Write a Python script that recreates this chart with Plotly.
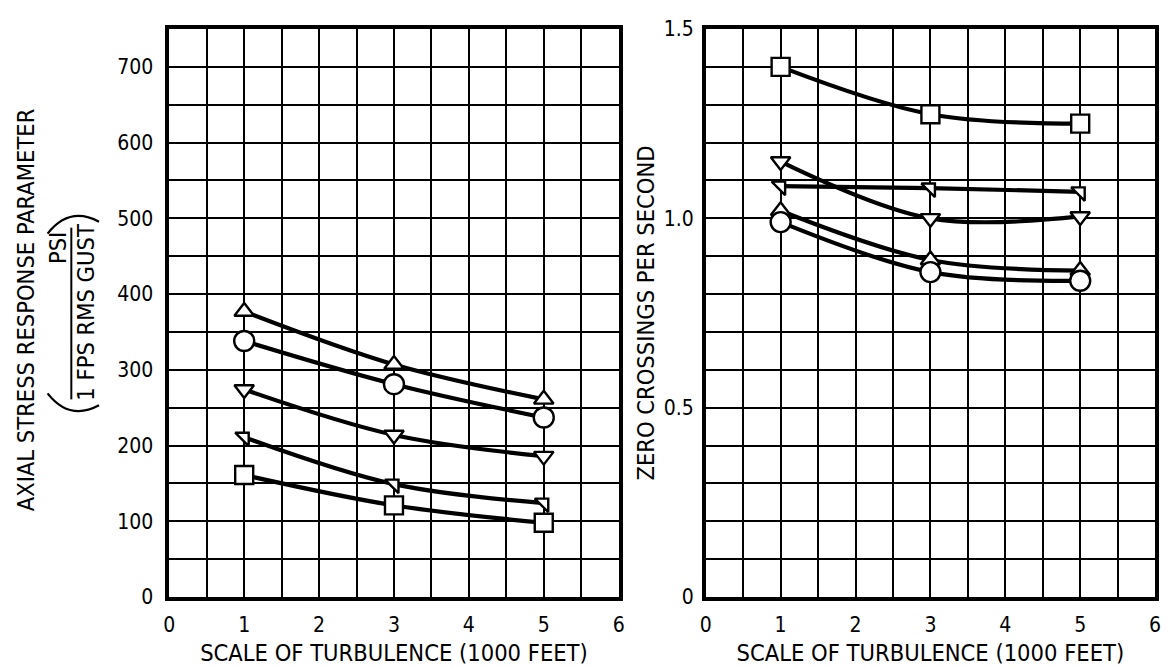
import plotly.graph_objects as go

# ---------------- data ----------------
x_scale = [1, 3, 5]

# left panel: axial stress response parameter
left_tri_up = [377, 307, 261]
left_circle = [338, 281, 237]
left_tri_down = [274, 214, 186]
left_tri_ne = [211, 149, 124]
left_square = [161, 121, 98]

# right panel: zero crossings per second
right_square = [1.40, 1.275, 1.25]
right_tri_down = [1.15, 1.0, 1.005]
right_tri_ne = [1.085, 1.08, 1.07]
right_tri_up = [1.02, 0.89, 0.862]
right_circle = [0.99, 0.858, 0.835]

x_ticks = [0, 1, 2, 3, 4, 5, 6]
left_y_ticks = [0, 100, 200, 300, 400, 500, 600, 700]
right_y_ticks = [0, 0.5, 1.0, 1.5]
right_y_labels = ["0", "0.5", "1.0", "1.5"]

# ---------------- layout helpers ----------------
W, H = 1169, 667
M_T, M_B = 29, 69
PLOT_H = H - M_T - M_B
FONT = "DejaVu Sans Condensed, Liberation Sans Narrow, DejaVu Sans, sans-serif"


def px(x):
    return x / W


def py(y):
    return (H - M_B - y) / PLOT_H


fig = go.Figure()

line_style = dict(color="black", width=4.2, shape="spline", smoothing=1.0)


def add_series(xs, ys, symbol, size, xa, ya):
    fig.add_trace(go.Scatter(
        x=xs, y=ys, mode="lines+markers", xaxis=xa, yaxis=ya,
        line=line_style,
        marker=dict(symbol=symbol, size=size, color="white",
                    line=dict(color="black", width=2.4)),
        showlegend=False, hoverinfo="x+y",
    ))


add_series(x_scale, left_tri_up, "triangle-up", 17, "x", "y")
add_series(x_scale, left_circle, "circle", 20, "x", "y")
add_series(x_scale, left_tri_down, "triangle-down", 17, "x", "y")
add_series(x_scale, left_tri_ne, "triangle-ne", 15, "x", "y")
add_series(x_scale, left_square, "square", 18, "x", "y")

add_series(x_scale, right_square, "square", 18, "x2", "y2")
add_series(x_scale, right_tri_down, "triangle-down", 17, "x2", "y2")
add_series(x_scale, right_tri_ne, "triangle-ne", 15, "x2", "y2")
add_series(x_scale, right_tri_up, "triangle-up", 17, "x2", "y2")
add_series(x_scale, right_circle, "circle", 20, "x2", "y2")

tick_font = dict(family=FONT, size=21, color="black")
title_font = dict(family=FONT, size=23.5, color="black")

GRID_W = 2.4

common_x = dict(
    range=[0, 6], tickvals=x_ticks, ticktext=[str(v) for v in x_ticks],
    showgrid=True, gridcolor="black", gridwidth=GRID_W,
    minor=dict(dtick=0.5, showgrid=True, gridcolor="black", gridwidth=GRID_W),
    showline=True, linecolor="black", linewidth=3.5, mirror=True,
    zeroline=False, ticks="", ticklabelstandoff=6, tickfont=tick_font,
    title=dict(text="SCALE OF TURBULENCE (1000 FEET)", font=title_font, standoff=14),
    fixedrange=True,
)

fig.update_layout(
    width=W, height=H,
    margin=dict(l=0, r=0, t=M_T, b=M_B),
    paper_bgcolor="white", plot_bgcolor="white",
    font=dict(family=FONT, color="black"),
    xaxis=dict(domain=[px(165), px(619)], anchor="y", **common_x),
    xaxis2=dict(domain=[px(707), px(1161)], anchor="y2", **common_x),
    yaxis=dict(
        range=[0, 750], tickvals=left_y_ticks,
        ticktext=[str(v) for v in left_y_ticks],
        showgrid=True, gridcolor="black", gridwidth=GRID_W,
        minor=dict(dtick=50, showgrid=True, gridcolor="black", gridwidth=GRID_W),
        showline=True, linecolor="black", linewidth=3.5, mirror=True,
        zeroline=False, ticks="", ticklabelstandoff=8, tickfont=tick_font,
        anchor="x", fixedrange=True,
    ),
    yaxis2=dict(
        range=[0, 1.5], tickvals=right_y_ticks, ticktext=right_y_labels,
        showgrid=True, gridcolor="black", gridwidth=GRID_W,
        minor=dict(dtick=0.1, showgrid=True, gridcolor="black", gridwidth=GRID_W),
        showline=True, linecolor="black", linewidth=3.5, mirror=True,
        zeroline=False, ticks="", ticklabelstandoff=4, tickfont=tick_font,
        title=dict(text="ZERO CROSSINGS PER SECOND", font=title_font, standoff=4),
        anchor="x2", fixedrange=True,
    ),
)

# left y-axis title (multi-part, drawn as annotations)
fig.add_annotation(x=px(20), y=py(310), xref="paper", yref="paper",
                   text="AXIAL STRESS RESPONSE PARAMETER", textangle=-90,
                   showarrow=False, font=title_font, xanchor="center", yanchor="middle")
fig.add_annotation(x=px(52), y=py(248), xref="paper", yref="paper",
                   text="PSI", textangle=-90,
                   showarrow=False, font=title_font, xanchor="center", yanchor="middle")
fig.add_annotation(x=px(80), y=py(313), xref="paper", yref="paper",
                   text="1 FPS RMS GUST", textangle=-90,
                   showarrow=False, font=title_font, xanchor="center", yanchor="middle")
# fraction bar
fig.add_shape(type="line", xref="paper", yref="paper",
              x0=px(66), x1=px(66), y0=py(228), y1=py(400),
              line=dict(color="black", width=2))
# parentheses (rotated)
fig.add_shape(type="path", xref="paper", yref="paper",
              path=f"M {px(42)},{py(234)} Q {px(64)},{py(206)} {px(94)},{py(222)}",
              line=dict(color="black", width=2.2))
fig.add_shape(type="path", xref="paper", yref="paper",
              path=f"M {px(42)},{py(394)} Q {px(64)},{py(422)} {px(94)},{py(406)}",
              line=dict(color="black", width=2.2))

fig.write_html("out.html", config={"displayModeBar": False},
               post_script="document.body.style.margin='0';")
